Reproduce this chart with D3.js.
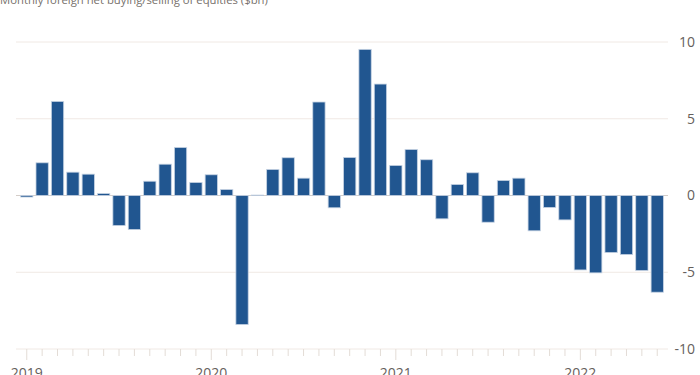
<!DOCTYPE html>
<html>
<head>
<meta charset="utf-8">
<script src="https://cdn.jsdelivr.net/npm/d3@7"></script>
<style>
  html, body { margin: 0; padding: 0; background: #fff; overflow: hidden; }
  text { font-family: "Open Sans", "Noto Sans", sans-serif; }
</style>
</head>
<body>
<div id="chart"></div>
<script>
// Net buying/selling by month, Jan 2019 - Jun 2022 ($bn)
const months = d3.range(42).map(i => new Date(2019, i, 1));
const values = [
  -0.1, 2.13, 6.13, 1.52, 1.39, 0.13, -1.96, -2.22, 0.93, 2.04, 3.13, 0.85,
  1.35, 0.39, -8.41, 0.03, 1.70, 2.46, 1.13, 6.09, -0.80, 2.48, 9.52, 7.26,
  1.96, 3.0, 2.33, -1.52, 0.72, 1.48, -1.74, 0.98, 1.13, -2.30, -0.78, -1.59,
  -4.85, -5.04, -3.72, -3.85, -4.89, -6.30
];
const yTicks = [-10, -5, 0, 5, 10];
const yearLabels = ["2019", "2020", "2021", "2022"];
const title = "Monthly foreign net buying/selling of equities ($bn)";

const width = 700, height = 375;
const plotLeft = 16, plotRight = 668, plotTop = 42, plotBottom = 349;

const svg = d3.select("#chart").append("svg")
  .attr("width", width)
  .attr("height", height);

const x = d3.scaleBand()
  .domain(months)
  .range([plotLeft, plotRight])
  .paddingInner(0.2)
  .paddingOuter(0.3);

const y = d3.scaleLinear()
  .domain([-10, 10])
  .range([plotBottom, plotTop]);

// title, mostly cut off by the top edge
svg.append("text")
  .attr("x", 0)
  .attr("y", 3.5)
  .attr("fill", "#76706b")
  .attr("font-size", 11.3)
  .text(title);

// gridlines
svg.append("g")
  .selectAll("line")
  .data(yTicks)
  .join("line")
  .attr("x1", plotLeft)
  .attr("x2", plotRight)
  .attr("y1", d => y(d))
  .attr("y2", d => y(d))
  .attr("stroke", d => d === 0 ? "#d4cdc8" : "#f0e9e4")
  .attr("stroke-width", 1);

// right axis labels
svg.append("g")
  .selectAll("text")
  .data(yTicks)
  .join("text")
  .attr("x", 695)
  .attr("y", d => y(d))
  .attr("dy", "0.35em")
  .attr("text-anchor", "end")
  .attr("fill", "#66605c")
  .attr("font-size", 14)
  .text(d => d);

// monthly ticks on the bottom line
svg.append("g")
  .selectAll("line")
  .data(months)
  .join("line")
  .attr("x1", d => x(d) + x.bandwidth() / 2)
  .attr("x2", d => x(d) + x.bandwidth() / 2)
  .attr("y1", plotBottom)
  .attr("y2", d => d.getMonth() === 0 ? plotBottom + 11 : plotBottom + 7)
  .attr("stroke", "#e3dcd6")
  .attr("stroke-width", 1);

// year labels
svg.append("g")
  .selectAll("text")
  .data(months.filter(d => d.getMonth() === 0))
  .join("text")
  .attr("x", d => x(d) + x.bandwidth() / 2)
  .attr("y", 378)
  .attr("text-anchor", "middle")
  .attr("fill", "#66605c")
  .attr("font-size", 14)
  .text((d, i) => yearLabels[i]);

// bars
svg.append("g")
  .selectAll("rect")
  .data(values)
  .join("rect")
  .attr("x", (d, i) => x(months[i]))
  .attr("width", x.bandwidth())
  .attr("y", d => y(Math.max(0, d)))
  .attr("height", d => Math.abs(y(d) - y(0)))
  .attr("fill", "#215690")
  .attr("stroke", "#c6d3e3")
  .attr("stroke-width", 0.8);
</script>
</body>
</html>
